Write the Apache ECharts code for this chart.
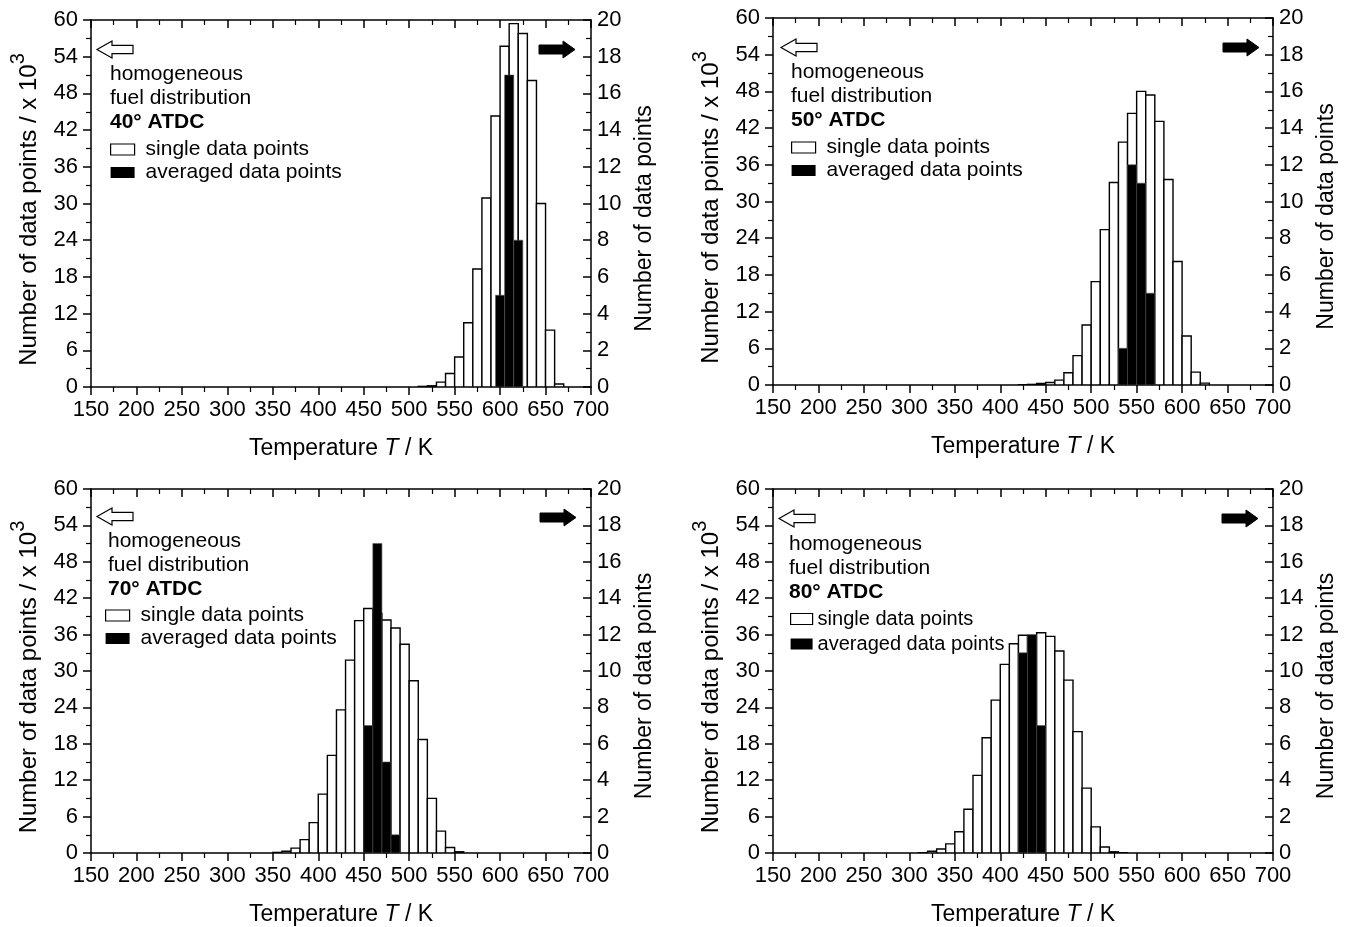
<!DOCTYPE html>
<html>
<head>
<meta charset="utf-8">
<script src="https://cdn.jsdelivr.net/npm/echarts@6/dist/echarts.min.js"></script>
<style>
  html, body { margin: 0; background: #fff; }
  #chart { width: 1347px; height: 927px; }
</style>
</head>
<body>
<div id="chart"></div>
<script>
// histogram data
// single data points: left bin edge (K) and count (x 10^3, left axis)
// averaged data points: left bin edge (K) and count (right axis)
const binWidth = 10;

const single40Start = [510, 520, 530, 540, 550, 560, 570, 580, 590, 600, 610, 620, 630, 640, 650, 660];
const single40 = [0.1, 0.2, 0.8, 2.2, 4.9, 10.5, 19.3, 30.9, 44.3, 55.7, 59.4, 57.8, 50.1, 30.0, 9.3, 0.5];
const avg40Start = [595, 605, 615];
const avg40 = [5, 17, 8];

const single50Start = [420, 430, 440, 450, 460, 470, 480, 490, 500, 510, 520, 530, 540, 550, 560, 570, 580, 590, 600, 610, 620];
const single50 = [0.05, 0.1, 0.25, 0.4, 0.8, 2.0, 4.8, 9.8, 16.9, 25.4, 33.1, 39.7, 44.4, 48.0, 47.4, 43.1, 33.6, 20.2, 8.0, 2.1, 0.3];
const avg50Start = [530, 540, 550, 560];
const avg50 = [2, 12, 11, 5];

const single70Start = [350, 360, 370, 380, 390, 400, 410, 420, 430, 440, 450, 460, 470, 480, 490, 500, 510, 520, 530, 540, 550];
const single70 = [0.1, 0.3, 0.8, 2.2, 5.0, 9.7, 16.1, 23.6, 31.8, 38.3, 40.3, 39.5, 38.4, 37.1, 34.4, 28.4, 18.7, 9.0, 3.6, 0.9, 0.2];
const avg70Start = [450, 460, 470, 480];
const avg70 = [7, 17, 5, 1];

const single80Start = [310, 320, 330, 340, 350, 360, 370, 380, 390, 400, 410, 420, 430, 440, 450, 460, 470, 480, 490, 500, 510, 520, 530];
const single80 = [0.05, 0.3, 0.65, 1.5, 3.5, 7.2, 12.8, 19.0, 25.2, 31.1, 34.5, 35.9, 35.8, 36.3, 35.7, 33.3, 28.5, 20.0, 10.7, 4.3, 1.0, 0.2, 0.05];
const avg80Start = [420, 430, 440];
const avg80 = [11, 12, 7];

const panelLabels = ['40° ATDC', '50° ATDC', '70° ATDC', '80° ATDC'];
const singleName = 'single data points';
const avgName = 'averaged data points';

const panels = [
  { singleStart: single40Start, single: single40, avgStart: avg40Start, avg: avg40 },
  { singleStart: single50Start, single: single50, avgStart: avg50Start, avg: avg50 },
  { singleStart: single70Start, single: single70, avgStart: avg70Start, avg: avg70 },
  { singleStart: single80Start, single: single80, avgStart: avg80Start, avg: avg80 }
];

// layout
const grids = [
  { left: 91, top: 20, width: 500, height: 367 },
  { left: 773, top: 18, width: 500, height: 367 },
  { left: 91, top: 489, width: 500, height: 366 },
  { left: 773, top: 489, width: 500, height: 366 }
];
// annotation text, legend and arrow placement per panel
const notes = [
  { tx: 110, ty: 74, lx: 110, ly: 139, lf: 21, lw: 24, lg: 2, tp: 6, ax: 97, ay: 41, bx: 539, by: 41 },
  { tx: 791, ty: 72, lx: 791, ly: 137, lf: 21, lw: 24, lg: 2, tp: 6, ax: 781, ay: 39, bx: 1223, by: 39 },
  { tx: 108, ty: 541, lx: 105, ly: 605, lf: 21, lw: 24, lg: 2, tp: 6, ax: 97, ay: 508, bx: 540, by: 509 },
  { tx: 789, ty: 544, lx: 790, ly: 609, lf: 20, lw: 22, lg: 5, tp: 0, ax: 779, ay: 510, bx: 1222, by: 510 }
];

const font = '"Liberation Sans", Arial, sans-serif';

function binRenderer(fill, stroke, lineWidth) {
  return function (params, api) {
    const p0 = api.coord([api.value(0), 0]);
    const p1 = api.coord([api.value(1), api.value(2)]);
    return {
      type: 'rect',
      shape: { x: p0[0], y: p1[1], width: p1[0] - p0[0], height: p0[1] - p1[1] },
      style: { fill: fill, stroke: stroke, lineWidth: lineWidth }
    };
  };
}

const xAxes = [], yAxes = [], series = [], graphics = [], legends = [];

panels.forEach(function (p, i) {
  // bottom axis
  xAxes.push({
    type: 'value', gridIndex: i, position: 'bottom', min: 150, max: 700, interval: 50,
    name: '{n|Temperature }{i|T}{n| / K}', nameLocation: 'middle', nameGap: 50,
    nameTextStyle: { rich: { n: { fontSize: 23, fontFamily: font, color: '#000' }, i: { fontSize: 23, fontFamily: font, fontStyle: 'italic', color: '#000' } } },
    axisLine: { onZero: false, lineStyle: { color: '#000', width: 1.5 } },
    axisTick: { inside: false, length: 8, lineStyle: { color: '#000', width: 1.5 } },
    minorTick: { show: true, splitNumber: 2, length: 5, lineStyle: { color: '#000', width: 1.2 } },
    axisLabel: { color: '#000', fontSize: 22, fontFamily: font, margin: 12 },
    splitLine: { show: false }
  });
  // top frame
  xAxes.push({
    type: 'value', gridIndex: i, position: 'top', min: 150, max: 700, interval: 50,
    axisLine: { onZero: false, lineStyle: { color: '#000', width: 1.5 } },
    axisTick: { inside: true, length: 8, lineStyle: { color: '#000', width: 1.5 } },
    minorTick: { show: true, splitNumber: 2, length: 5, lineStyle: { color: '#000', width: 1.2 } },
    axisLabel: { show: false },
    splitLine: { show: false }
  });
  // left axis: single data points (x 10^3)
  yAxes.push({
    type: 'value', gridIndex: i, position: 'left', min: 0, max: 60, interval: 6,
    name: '{a|Number of data points / x 10}{s|3}', nameLocation: 'middle', nameGap: 50, nameRotate: 90,
    nameTextStyle: {
      padding: [0, 12, 0, 0],
      rich: {
        a: { fontSize: 24, fontFamily: font, color: '#000', lineHeight: 33, verticalAlign: 'bottom' },
        s: { fontSize: 20, fontFamily: font, color: '#000', lineHeight: 33, verticalAlign: 'top' }
      }
    },
    axisLine: { onZero: false, lineStyle: { color: '#000', width: 1.5 } },
    axisTick: { inside: false, length: 8, lineStyle: { color: '#000', width: 1.5 } },
    minorTick: { show: true, splitNumber: 2, length: 5, lineStyle: { color: '#000', width: 1.2 } },
    axisLabel: { color: '#000', fontSize: 22, fontFamily: font, margin: 13 },
    splitLine: { show: false }
  });
  // right axis: averaged data points
  yAxes.push({
    type: 'value', gridIndex: i, position: 'right', min: 0, max: 20, interval: 2,
    name: 'Number of data points', nameLocation: 'middle', nameGap: 42, nameRotate: 90,
    nameTextStyle: { fontSize: 23, fontFamily: font, color: '#000', padding: [0, 30, 0, 0] },
    axisLine: { onZero: false, lineStyle: { color: '#000', width: 1.5 } },
    axisTick: { inside: true, length: 8, lineStyle: { color: '#000', width: 1.5 } },
    minorTick: { show: true, splitNumber: 2, length: 5, lineStyle: { color: '#000', width: 1.2 } },
    axisLabel: { color: '#000', fontSize: 22, fontFamily: font, margin: 6 },
    splitLine: { show: false }
  });

  series.push({
    name: singleName, type: 'custom', xAxisIndex: 2 * i, yAxisIndex: 2 * i,
    renderItem: binRenderer('#fff', '#000', 1.4),
    encode: { x: [0, 1], y: 2 },
    itemStyle: { color: '#fff', borderColor: '#000' },
    data: p.singleStart.map(function (s, k) { return [s, s + binWidth, p.single[k]]; }),
    clip: true, z: 2
  });
  series.push({
    name: avgName, type: 'custom', xAxisIndex: 2 * i, yAxisIndex: 2 * i + 1,
    renderItem: binRenderer('#000', '#555', 0.6),
    encode: { x: [0, 1], y: 2 },
    itemStyle: { color: '#000' },
    data: p.avgStart.map(function (s, k) { return [s, s + binWidth, p.avg[k]]; }),
    clip: true, z: 3
  });

  const n = notes[i];
  legends.push({
    left: n.lx, top: n.ly, orient: 'vertical', selectedMode: false,
    itemWidth: n.lw, itemHeight: 11, itemGap: n.lg, padding: 0,
    textStyle: { color: '#000', fontSize: n.lf, fontFamily: font, padding: [0, 0, 0, n.tp] },
    data: [
      { name: singleName, icon: 'rect', itemStyle: { color: '#fff', borderColor: '#000', borderWidth: 1.2 } },
      { name: avgName, icon: 'rect', itemStyle: { color: '#000', borderWidth: 0 } }
    ]
  });

  ['homogeneous', 'fuel distribution', panelLabels[i]].forEach(function (t, k) {
    graphics.push({
      type: 'text', x: n.tx, y: n.ty + 24 * k,
      style: { text: t, fill: '#000', fontSize: 21, fontFamily: font, fontWeight: k === 2 ? 'bold' : 'normal', verticalAlign: 'middle' }
    });
  });
  // hollow arrow pointing left (left axis)
  graphics.push({
    type: 'polygon', x: n.ax, y: n.ay,
    shape: { points: [[0, 8.5], [15, 0], [15, 4.3], [36, 4.3], [36, 12.7], [15, 12.7], [15, 17]] },
    style: { fill: '#fff', stroke: '#000', lineWidth: 1.2 }
  });
  // filled arrow pointing right (right axis)
  graphics.push({
    type: 'polygon', x: n.bx, y: n.by,
    shape: { points: [[36, 8.5], [24, 0], [24, 4], [0, 4], [0, 13], [24, 13], [24, 17]] },
    style: { fill: '#000', stroke: '#000', lineWidth: 1 }
  });
});

const chart = echarts.init(document.getElementById('chart'));
chart.setOption({
  backgroundColor: '#fff',
  animation: false,
  grid: grids,
  xAxis: xAxes,
  yAxis: yAxes,
  legend: legends,
  series: series,
  graphic: graphics
});
</script>
</body>
</html>
